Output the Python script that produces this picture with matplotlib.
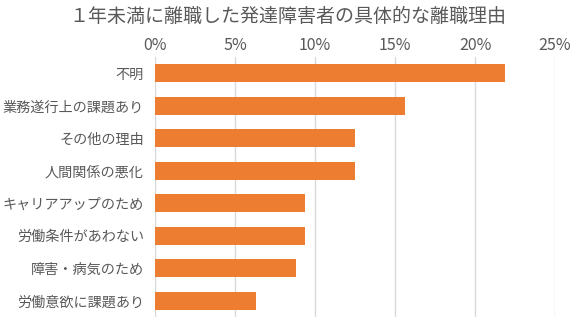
import matplotlib
matplotlib.use("Agg")
import matplotlib.pyplot as plt
from matplotlib.ticker import FuncFormatter

plt.rcParams['font.family'] = ['Noto Sans CJK JP', 'DejaVu Sans']

categories = ["不明", "業務遂行上の課題あり", "その他の理由", "人間関係の悪化",
              "キャリアアップのため", "労働条件があわない", "障害・病気のため", "労働意欲に課題あり"]
values = [21.9, 15.6, 12.5, 12.5, 9.4, 9.4, 8.8, 6.3]
xticks = [0, 5, 10, 15, 20, 25]
title = "１年未満に離職した発達障害者の具体的な離職理由"

text_color = "#595959"
bar_color = "#ED7D31"
grid_color = "#D9D9D9"

fig = plt.figure(figsize=(5.8, 3.26), dpi=100)
ax = fig.add_axes([155/580, 1 - 317/326, 400/580, 260/326])

y = list(range(len(categories)))
ax.barh(y, values, height=0.56, color=bar_color, zorder=3)
ax.set_ylim(len(categories) - 0.5, -0.5)
ax.set_xlim(0, 25)
ax.set_yticks(y)
ax.set_yticklabels(categories, fontsize=10.2, color=text_color)
ax.set_xticks(xticks)
ax.xaxis.set_major_formatter(FuncFormatter(lambda v, p: f"{int(v)}%"))
ax.xaxis.tick_top()
ax.tick_params(axis='x', length=0, labelsize=11.5, colors=text_color, pad=2)
ax.tick_params(axis='y', length=0, pad=8)
for lbl in ax.get_xticklabels():
    lbl.set_color(text_color)
ax.grid(axis='x', color=grid_color, linewidth=1, zorder=0)
for s in ax.spines.values():
    s.set_visible(False)

fig.text(288/580, 1 - 16/326, title, ha='center', va='center', fontsize=13.7, color=text_color)

fig.savefig("out.png", dpi=100)
